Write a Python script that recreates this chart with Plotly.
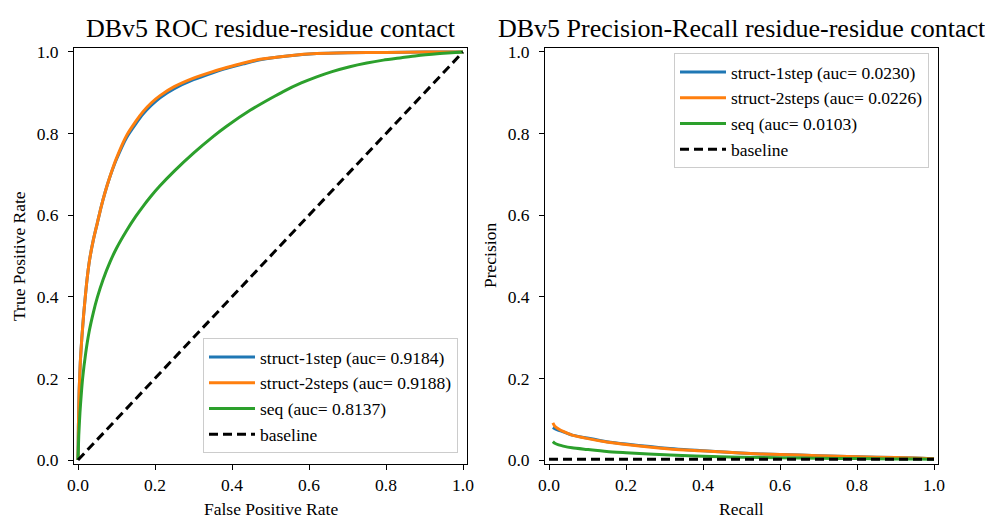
import plotly.graph_objects as go

# The page body has an 8px margin, so the figure is drawn 8px smaller and all
# reference pixel positions are shifted by that offset.
OFF = 8
W, H = 993 - OFF, 520 - OFF

# ---------------- data ----------------
roc_fpr_struct = [0, 0.001, 0.003, 0.006, 0.01, 0.015, 0.022, 0.03, 0.04, 0.05, 0.06, 0.07, 0.083, 0.1, 0.126, 0.15, 0.17, 0.19, 0.213, 0.25, 0.3, 0.35, 0.386, 0.43, 0.473, 0.55, 0.62, 0.7, 0.8, 0.9, 1.0]
roc_tpr_1step = [0, 0.08, 0.17, 0.24, 0.30, 0.36, 0.43, 0.49, 0.54, 0.58, 0.62, 0.655, 0.694, 0.737, 0.79, 0.824, 0.849, 0.869, 0.888, 0.91, 0.932, 0.949, 0.960, 0.971, 0.981, 0.991, 0.996, 0.998, 0.999, 1.0, 1.0]
roc_tpr_2steps = [0, 0.08, 0.17, 0.24, 0.30, 0.36, 0.43, 0.49, 0.54, 0.58, 0.62, 0.655, 0.695, 0.74, 0.795, 0.83, 0.855, 0.875, 0.893, 0.915, 0.936, 0.952, 0.962, 0.973, 0.982, 0.991, 0.996, 0.998, 0.999, 1.0, 1.0]

roc_fpr_seq = [0, 0.002, 0.005, 0.008, 0.012, 0.02, 0.029, 0.04, 0.05, 0.065, 0.083, 0.1, 0.126, 0.15, 0.17, 0.19, 0.213, 0.25, 0.3, 0.35, 0.386, 0.447, 0.5, 0.533, 0.58, 0.62, 0.66, 0.706, 0.75, 0.793, 0.84, 0.88, 0.94, 1.0]
roc_tpr_seq = [0, 0.06, 0.115, 0.155, 0.20, 0.262, 0.315, 0.362, 0.398, 0.442, 0.485, 0.519, 0.562, 0.597, 0.623, 0.647, 0.672, 0.708, 0.752, 0.792, 0.818, 0.857, 0.886, 0.903, 0.924, 0.939, 0.952, 0.964, 0.973, 0.98, 0.986, 0.991, 0.996, 1.0]

roc_base = [0, 1]

pr_recall = [0.01, 0.015, 0.025, 0.037, 0.06, 0.098, 0.15, 0.2, 0.314, 0.444, 0.55, 0.65, 0.75, 0.85, 0.95, 1.0]
pr_prec_1step = [0.080, 0.077, 0.073, 0.069, 0.061, 0.054, 0.045, 0.039, 0.028, 0.020, 0.015, 0.012, 0.009, 0.007, 0.005, 0.003]
pr_prec_2steps = [0.091, 0.083, 0.076, 0.070, 0.061, 0.053, 0.044, 0.038, 0.027, 0.020, 0.015, 0.012, 0.009, 0.007, 0.005, 0.003]
pr_prec_seq = [0.045, 0.041, 0.037, 0.034, 0.030, 0.026, 0.021, 0.018, 0.012, 0.008, 0.006, 0.005, 0.004, 0.003, 0.0025, 0.002]
pr_base_x = [0, 1]
pr_base_y = [0.002, 0.002]

names = ["struct-1step", "struct-2steps", "seq"]
roc_auc = ["0.9184", "0.9188", "0.8137"]
pr_auc = ["0.0230", "0.0226", "0.0103"]
colors = ["#1f77b4", "#ff7f0e", "#2ca02c"]
tick_vals = [0.0, 0.2, 0.4, 0.6, 0.8, 1.0]
tick_text = ["0.0", "0.2", "0.4", "0.6", "0.8", "1.0"]

FONT = "Liberation Serif"
LW = 3

fig = go.Figure()

roc_x = [roc_fpr_struct, roc_fpr_struct, roc_fpr_seq]
roc_y = [roc_tpr_1step, roc_tpr_2steps, roc_tpr_seq]
for i in range(3):
    fig.add_trace(go.Scatter(x=roc_x[i], y=roc_y[i], mode="lines",
                             line=dict(color=colors[i], width=LW, shape="spline", smoothing=0.6),
                             name=f"{names[i]} (auc= {roc_auc[i]})",
                             xaxis="x", yaxis="y", legend="legend"))
fig.add_trace(go.Scatter(x=roc_base, y=roc_base, mode="lines",
                         line=dict(color="black", width=LW, dash="9px,5px"),
                         name="baseline", xaxis="x", yaxis="y", legend="legend"))

pr_y = [pr_prec_1step, pr_prec_2steps, pr_prec_seq]
for i in range(3):
    fig.add_trace(go.Scatter(x=pr_recall, y=pr_y[i], mode="lines",
                             line=dict(color=colors[i], width=LW, shape="spline", smoothing=0.6),
                             name=f"{names[i]} (auc= {pr_auc[i]})",
                             xaxis="x2", yaxis="y2", legend="legend2"))
fig.add_trace(go.Scatter(x=pr_base_x, y=pr_base_y, mode="lines",
                         line=dict(color="black", width=LW, dash="9px,5px"),
                         name="baseline", xaxis="x2", yaxis="y2", legend="legend2"))


def px_x(p):
    return (p - OFF) / W


def px_y(p):
    return 1 - (p - OFF) / H


axis_common = dict(range=[-0.01, 1.01], tickvals=tick_vals, ticktext=tick_text,
                   showline=True, mirror=True, linecolor="black", linewidth=1.3,
                   ticks="outside", ticklen=5, tickwidth=1.2, tickcolor="black",
                   showgrid=False, zeroline=False, automargin=False,
                   tickfont=dict(family=FONT, size=17.5, color="black"))

legend_common = dict(bgcolor="rgba(255,255,255,0.8)", bordercolor="#cccccc", borderwidth=1,
                     itemwidth=46, font=dict(family=FONT, size=17.5, color="black"))

fig.update_layout(
    width=W, height=H,
    margin=dict(l=0, r=0, t=0, b=0),
    paper_bgcolor="white", plot_bgcolor="white",
    font=dict(family=FONT, color="black"),
    xaxis=dict(domain=[px_x(74.15), px_x(466.85)], anchor="y", **axis_common),
    yaxis=dict(domain=[px_y(464.1), px_y(47.9)], anchor="x", ticklabelstandoff=6, **axis_common),
    xaxis2=dict(domain=[px_x(545.15), px_x(937.85)], anchor="y2", **axis_common),
    yaxis2=dict(domain=[px_y(464.1), px_y(47.9)], anchor="x2", ticklabelstandoff=6, **axis_common),
    legend=dict(x=px_x(458), y=px_y(453), xanchor="right", yanchor="bottom", **legend_common),
    legend2=dict(x=px_x(929), y=px_y(53), xanchor="right", yanchor="top", **legend_common),
    showlegend=True,
)

ann = [
    dict(text="DBv5 ROC residue-residue contact", x=px_x(270.5), y=px_y(28), size=26, angle=0),
    dict(text="DBv5 Precision-Recall residue-residue contact", x=px_x(741.5), y=px_y(28), size=26, angle=0),
    dict(text="False Positive Rate", x=px_x(270.5), y=px_y(509), size=17.5, angle=0),
    dict(text="Recall", x=px_x(741.5), y=px_y(509), size=17.5, angle=0),
    dict(text="True Positive Rate", x=px_x(19), y=px_y(256), size=17.5, angle=-90),
    dict(text="Precision", x=px_x(490), y=px_y(256), size=17.5, angle=-90),
]
for a in ann:
    fig.add_annotation(text=a["text"], x=a["x"], y=a["y"], xref="paper", yref="paper",
                       xanchor="center", yanchor="middle", showarrow=False,
                       textangle=a["angle"], font=dict(family=FONT, size=a["size"], color="black"))

fig.write_html("out.html")
